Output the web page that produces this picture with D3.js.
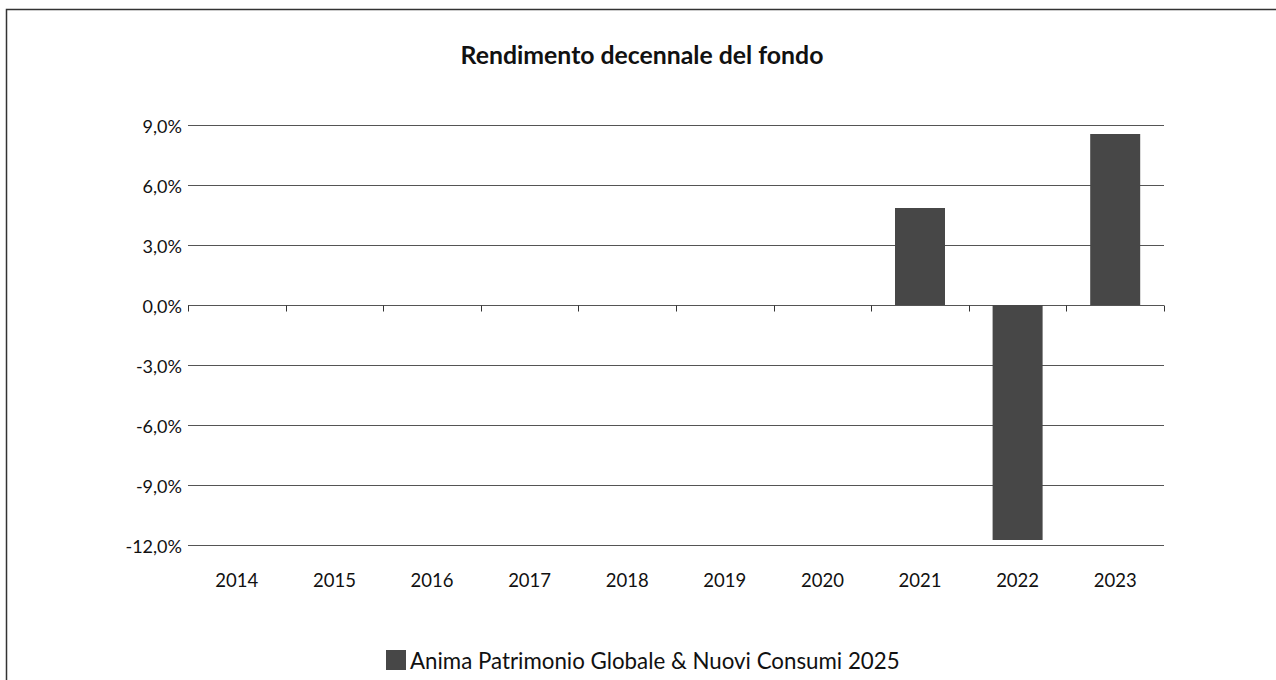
<!DOCTYPE html>
<html>
<head>
<meta charset="utf-8">
<script src="https://cdn.jsdelivr.net/npm/d3@7"></script>
<style>
  body { margin: 0; background: #fff; }
  svg { display: block; font-family: Lato, sans-serif; }
</style>
</head>
<body>
<svg id="chart"></svg>
<script>
var years = ["2014", "2015", "2016", "2017", "2018", "2019", "2020", "2021", "2022", "2023"];
var returns = [null, null, null, null, null, null, null, 4.85, -11.75, 8.55];
var yTicks = [9, 6, 3, 0, -3, -6, -9, -12];
var seriesName = "Anima Patrimonio Globale & Nuovi Consumi 2025";
var chartTitle = "Rendimento decennale del fondo";

var width = 1276;
var height = 680;
var svg = d3.select("#chart")
            .attr("width", width)
            .attr("height", height);

// frame around the chart
svg.append("path")
   .attr("d", "M6.5,680 V9.5 H1276")
   .attr("fill", "none")
   .attr("stroke", "#333")
   .attr("stroke-width", 1.5);

var x = d3.scaleBand()
          .domain(years)
          .range([188, 1164]);
var y = d3.scaleLinear()
          .domain([-12, 9])
          .range([545, 125]);

svg.append("text")
   .attr("x", 642)
   .attr("y", 64)
   .attr("text-anchor", "middle")
   .attr("font-size", 24.8)
   .attr("font-weight", "bold")
   .attr("fill", "#111")
   .text(chartTitle);

// gridlines
svg.append("g")
   .selectAll("line")
   .data(yTicks)
   .enter().append("line")
   .attr("x1", 188)
   .attr("x2", 1164)
   .attr("y1", function(d) { return Math.round(y(d)) + 0.5; })
   .attr("y2", function(d) { return Math.round(y(d)) + 0.5; })
   .attr("stroke", "#555")
   .attr("stroke-width", 1);

// y labels
svg.append("g")
   .selectAll("text")
   .data(yTicks)
   .enter().append("text")
   .attr("x", 182)
   .attr("y", function(d) { return y(d) + 8; })
   .attr("text-anchor", "end")
   .attr("font-size", 18)
   .attr("fill", "#111")
   .text(function(d) { return d.toFixed(1).replace(".", ",") + "%"; });

// bars
var bw = 50;
svg.append("g")
   .selectAll("rect")
   .data(years.map(function(d, i) { return {year: d, v: returns[i]}; })
              .filter(function(d) { return d.v !== null; }))
   .enter().append("rect")
   .attr("x", function(d) { return x(d.year) + (x.bandwidth() - bw) / 2; })
   .attr("width", bw)
   .attr("y", function(d) { return y(Math.max(0, d.v)); })
   .attr("height", function(d) { return Math.abs(y(d.v) - y(0)); })
   .attr("fill", "#474747");

// category axis on zero line
var xAxis = svg.append("g")
               .attr("transform", "translate(0," + (Math.round(y(0)) + 0.5) + ")");
xAxis.selectAll("line")
     .data(years.concat(["end"]))
     .enter().append("line")
     .attr("x1", function(d, i) { return Math.round(188 + i * x.step()) + 0.5; })
     .attr("x2", function(d, i) { return Math.round(188 + i * x.step()) + 0.5; })
     .attr("y1", 0)
     .attr("y2", 6)
     .attr("stroke", "#333");

svg.append("g")
   .selectAll("text")
   .data(years)
   .enter().append("text")
   .attr("x", function(d) { return x(d) + x.bandwidth() / 2; })
   .attr("y", 587)
   .attr("text-anchor", "middle")
   .attr("font-size", 18.5)
   .attr("fill", "#111")
   .text(function(d) { return d; });

// legend
var legend = svg.append("g");
legend.append("rect")
      .attr("x", 386)
      .attr("y", 650)
      .attr("width", 20)
      .attr("height", 20)
      .attr("fill", "#474747");
legend.append("text")
      .attr("x", 410)
      .attr("y", 669)
      .attr("font-size", 22.3)
      .attr("fill", "#111")
      .text(seriesName);
</script>
</body>
</html>
